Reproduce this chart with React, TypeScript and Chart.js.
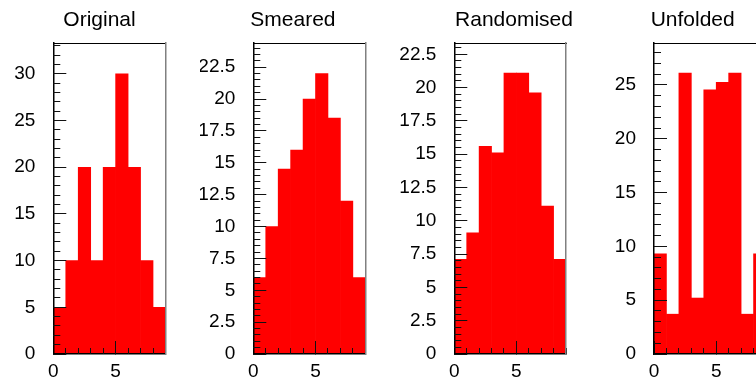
import React, { useEffect, useRef } from 'react';
import { Chart, registerables } from 'chart.js';

Chart.register(...registerables);

// ---------- data ----------
const binCenters = [0.5, 1.5, 2.5, 3.5, 4.5, 5.5, 6.5, 7.5, 8.5];
const originalValues = [5, 10, 20, 10, 20, 30, 20, 10, 5];
const smearedValues = [6, 10, 14.5, 16, 20, 22, 18.5, 12, 6];
const randomisedValues = [7.1, 9.1, 15.6, 15.1, 21.1, 21.1, 19.6, 11.1, 7.1];
const unfoldedValues = [9.3, 3.7, 26.1, 5.2, 24.55, 25.25, 26.1, 3.7, 9.3];
const panelTitles = ['Original', 'Smeared', 'Randomised', 'Unfolded'];
const xMin = 0;
const xMax = 9;
const xMajorStep = 5;
const xMinorStep = 1;
const yMaxima = [33.3, 24.4, 23.35, 28.9];
const yMajorSteps = [5, 2.5, 2.5, 5];
const yMinorSteps = [1, 0.5, 0.5, 1];

const seriesList = [originalValues, smearedValues, randomisedValues, unfoldedValues];

// ---------- layout / style ----------
const FONT = "'Liberation Sans', Arial, Helvetica, sans-serif";
const TICK_COLOR = '#111';
const CANVAS_W = 260;
const CANVAS_H = 379;

type PanelLayout = {
  left: number; // canvas left in page
  axisWidth: number; // left axis box width
  rightBox: number; // right axis box width (space between frame and title box edge)
  padRight: number; // layout padding right
};

const PANELS: PanelLayout[] = [
  { left: 0, axisWidth: 53.3, rightBox: 33.5, padRight: 61 },
  { left: 200, axisWidth: 53.3, rightBox: 20.5, padRight: 74.2 },
  { left: 400, axisWidth: 54.3, rightBox: 62, padRight: 32 },
  { left: 600, axisWidth: 54, rightBox: 19.4, padRight: 74.6 },
];

const font = (size: number) => ({ family: FONT, size, weight: 'normal' as const, lineHeight: 1.2 });

const zeroPad = (s: any) => {
  s.paddingTop = 0;
  s.paddingBottom = 0;
  s.paddingLeft = 0;
  s.paddingRight = 0;
};

function buildConfig(i: number): any {
  const p = PANELS[i];
  const values = seriesList[i];
  const yMax = yMaxima[i];
  return {
    type: 'bar',
    data: {
      datasets: [
        {
          data: binCenters.map((x, k) => ({ x, y: values[k] })),
          backgroundColor: '#ff0000',
          borderWidth: 0,
          barPercentage: 1,
          categoryPercentage: 1,
          xAxisID: 'x',
          yAxisID: 'y',
        },
      ],
    },
    options: {
      animation: false,
      responsive: false,
      devicePixelRatio: 1,
      layout: { padding: { left: 0, right: p.padRight, top: 0, bottom: 0 } },
      plugins: {
        legend: { display: false },
        tooltip: { enabled: false },
        title: {
          display: true,
          text: panelTitles[i],
          align: 'center',
          color: '#000',
          font: font(21),
          padding: { top: 7.2, bottom: 10.6 },
        },
      },
      scales: {
        x: {
          type: 'linear',
          axis: 'x',
          position: 'bottom',
          min: xMin,
          max: xMax,
          offset: false,
          weight: 1,
          grid: {
            display: true,
            drawOnChartArea: false,
            drawTicks: true,
            tickLength: -13,
            tickColor: TICK_COLOR,
            tickWidth: 1,
            offset: false,
            z: 1,
          },
          border: { display: true, color: '#000', width: 1.5, z: 1 },
          ticks: {
            stepSize: xMajorStep,
            includeBounds: false,
            autoSkip: false,
            maxRotation: 0,
            minRotation: 0,
            padding: 19.5,
            color: '#000',
            font: font(19),
            callback: (v: any) => String(v),
          },
          afterFit: (s: any) => {
            s.height = 25;
            zeroPad(s);
          },
        },
        xm: {
          type: 'linear',
          axis: 'x',
          position: 'bottom',
          min: xMin,
          max: xMax,
          offset: false,
          weight: 0,
          grid: {
            display: true,
            drawOnChartArea: false,
            drawTicks: true,
            tickLength: -6,
            tickColor: TICK_COLOR,
            tickWidth: 1,
            offset: false,
            z: 1,
          },
          border: { display: false },
          ticks: { display: false, stepSize: xMinorStep, includeBounds: false, autoSkip: false },
          afterFit: (s: any) => {
            s.height = 0;
            zeroPad(s);
          },
        },
        xt: {
          type: 'linear',
          axis: 'x',
          position: 'top',
          min: xMin,
          max: xMax,
          offset: false,
          weight: 0,
          grid: { display: false, drawTicks: false, offset: false },
          border: { display: true, color: '#000', width: 1, z: 1 },
          ticks: { display: false },
          afterFit: (s: any) => {
            s.height = 0;
            zeroPad(s);
          },
        },
        y: {
          type: 'linear',
          axis: 'y',
          position: 'left',
          min: 0,
          max: yMax,
          weight: 1,
          grid: {
            display: true,
            drawOnChartArea: false,
            drawTicks: true,
            tickLength: -13,
            tickColor: TICK_COLOR,
            tickWidth: 1,
            z: 1,
          },
          border: { display: true, color: '#000', width: 1.5, z: 1 },
          ticks: {
            stepSize: yMajorSteps[i],
            includeBounds: false,
            autoSkip: false,
            padding: 31,
            color: '#000',
            font: font(19),
            callback: (v: any) => String(v),
          },
          afterFit: (s: any) => {
            s.width = p.axisWidth;
            zeroPad(s);
          },
        },
        ym: {
          type: 'linear',
          axis: 'y',
          position: 'left',
          min: 0,
          max: yMax,
          weight: 0,
          grid: {
            display: true,
            drawOnChartArea: false,
            drawTicks: true,
            tickLength: -7,
            tickColor: TICK_COLOR,
            tickWidth: 1,
            z: 1,
          },
          border: { display: false },
          ticks: { display: false, stepSize: yMinorSteps[i], includeBounds: false, autoSkip: false },
          afterFit: (s: any) => {
            s.width = 0;
            zeroPad(s);
          },
        },
        yr: {
          type: 'linear',
          axis: 'y',
          position: 'right',
          min: 0,
          max: yMax,
          weight: 0,
          grid: { display: false, drawTicks: false },
          border: { display: true, color: '#808080', width: 1.5, z: 1 },
          ticks: { display: false },
          afterFit: (s: any) => {
            s.width = p.rightBox;
            zeroPad(s);
          },
        },
      },
    },
  };
}

function Panel({ index }: { index: number }) {
  const ref = useRef<HTMLCanvasElement>(null);
  useEffect(() => {
    if (!ref.current) return;
    const chart = new Chart(ref.current, buildConfig(index));
    return () => chart.destroy();
  }, [index]);
  return (
    <canvas
      ref={ref}
      width={CANVAS_W}
      height={CANVAS_H}
      style={{ position: 'absolute', left: PANELS[index].left, top: 0, width: CANVAS_W, height: CANVAS_H }}
    />
  );
}

export default function App() {
  return (
    <div
      style={{
        position: 'absolute',
        left: 0,
        top: 0,
        width: 756,
        height: 379,
        overflow: 'hidden',
        background: '#fff',
      }}
    >
      {[0, 1, 2, 3].map((i) => (
        <Panel key={i} index={i} />
      ))}
    </div>
  );
}
